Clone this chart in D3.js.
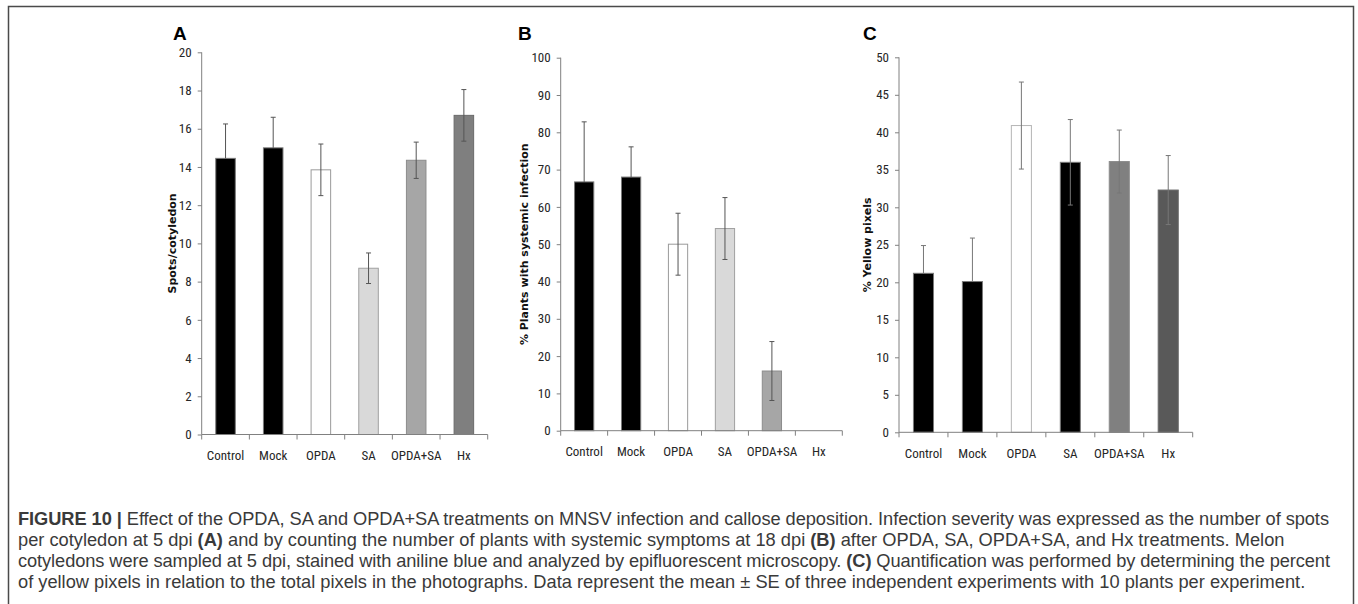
<!DOCTYPE html>
<html>
<head>
<meta charset="utf-8">
<script src="https://cdn.jsdelivr.net/npm/d3@7"></script>
<style>
  html, body { margin: 0; padding: 0; background: #fff; }
  svg { display: block; }
  .tick-label { font-family: "Liberation Sans Narrow", "Roboto Condensed", "Open Sans", sans-serif; font-size: 13px; fill: #262626; }
  .axis-title { font-family: "DejaVu Sans", Verdana, sans-serif; font-weight: bold; font-size: 11px; fill: #111; }
  .panel-letter { font-family: "Liberation Sans", Arial, sans-serif; font-weight: bold; font-size: 19px; fill: #000; }
  .caption { font-family: "Liberation Sans", Arial, sans-serif; fill: #3a3a3a; }
</style>
</head>
<body>
<svg id="fig" width="1358" height="604"></svg>
<script>
// ---------------- data ----------------
const categories = ["Control", "Mock", "OPDA", "SA", "OPDA+SA", "Hx"];

const spotsMean = [14.45, 15.0, 13.85, 8.7, 14.35, 16.7];
const spotsSE   = [1.8, 1.6, 1.35, 0.8, 0.95, 1.35];
const spotsTicks = [0, 2, 4, 6, 8, 10, 12, 14, 16, 18, 20];

const systemicMean = [66.7, 68.0, 50.0, 54.2, 16.0, 0];
const systemicSE   = [16.1, 8.1, 8.3, 8.3, 7.9, 0];
const systemicTicks = [0, 10, 20, 30, 40, 50, 60, 70, 80, 90, 100];

const yellowMean = [21.2, 20.1, 40.9, 36.0, 36.1, 32.3];
const yellowSE   = [3.7, 5.8, 5.8, 5.7, 4.2, 4.6];
const yellowTicks = [0, 5, 10, 15, 20, 25, 30, 35, 40, 45, 50];

const panelLetters = ["A", "B", "C"];
const yTitles = ["Spots/cotyledon", "% Plants with systemic infection", "% Yellow pixels"];

// bar styles
const fillsA = ["#000000", "#000000", "#ffffff", "#d9d9d9", "#a6a6a6", "#7f7f7f"];
const fillsB = ["#000000", "#000000", "#ffffff", "#d9d9d9", "#a6a6a6", "#7f7f7f"];
const fillsC = ["#000000", "#000000", "#ffffff", "#000000", "#808080", "#595959"];
const strokesA = ["#7a7a7a", "#7a7a7a", "#9a9a9a", "#a0a0a0", "#8c8c8c", "#6a6a6a"];
const strokesC = ["#7a7a7a", "#7a7a7a", "#b5b5b5", "#7a7a7a", "#8c8c8c", "#6a6a6a"];
// whether the lower half of the error bar shows through the bar
const lowerShownAB = [false, false, true, true, true, true];
const lowerShownC  = [false, false, true, true, true, true];

const captionLines = [
  [["b", "FIGURE 10 | "], ["n", "Effect of the OPDA, SA and OPDA+SA treatments on MNSV infection and callose deposition. Infection severity was expressed as the number of spots"]],
  [["n", "per cotyledon at 5 dpi "], ["b", "(A)"], ["n", " and by counting the number of plants with systemic symptoms at 18 dpi "], ["b", "(B)"], ["n", " after OPDA, SA, OPDA+SA, and Hx treatments. Melon"]],
  [["n", "cotyledons were sampled at 5 dpi, stained with aniline blue and analyzed by epifluorescent microscopy. "], ["b", "(C)"], ["n", " Quantification was performed by determining the percent"]],
  [["n", "of yellow pixels in relation to the total pixels in the photographs. Data represent the mean \u00b1 SE of three independent experiments with 10 plants per experiment."]]
];

// ---------------- layout ----------------
const svg = d3.select("#fig");

// frame
svg.append("rect")
  .attr("x", 8.5).attr("y", 6.5).attr("width", 1345).attr("height", 610)
  .attr("fill", "none").attr("stroke", "#4a4a4a").attr("stroke-width", 1.5);

const panels = [
  { mean: spotsMean, se: spotsSE, ticks: spotsTicks, max: 20, fills: fillsA, strokes: strokesA, lower: lowerShownAB, err: "#555555",
    x0: 201.7, x1: 487.7, yBottom: 434.5, yTop: 52.3, letterX: 173, titleX: 172 },
  { mean: systemicMean, se: systemicSE, ticks: systemicTicks, max: 100, fills: fillsB, strokes: strokesA, lower: lowerShownAB, err: "#555555",
    x0: 560.7, x1: 842.3, yBottom: 430.7, yTop: 57.7, letterX: 518, titleX: 524 },
  { mean: yellowMean, se: yellowSE, ticks: yellowTicks, max: 50, fills: fillsC, strokes: strokesC, lower: lowerShownC, err: "#777777",
    x0: 899, x1: 1192.7, yBottom: 432.3, yTop: 57.3, letterX: 863, titleX: 867 }
];

panels.forEach((p, pi) => {
  const g = svg.append("g");
  const x = d3.scaleBand().domain(categories).range([p.x0, p.x1]).padding(0);
  const y = d3.scaleLinear().domain([0, p.max]).range([p.yBottom, p.yTop]);
  const bw = x.bandwidth() * 0.41;
  const cx = c => x(c) + x.bandwidth() / 2;

  const data = categories.map((c, i) => ({ c, v: p.mean[i], se: p.se[i], fill: p.fills[i], stroke: p.strokes[i], lower: p.lower[i] }));

  // bars
  g.selectAll("rect.bar").data(data.filter(d => d.v > 0)).join("rect")
    .attr("class", "bar")
    .attr("x", d => cx(d.c) - bw / 2)
    .attr("y", d => y(d.v))
    .attr("width", bw)
    .attr("height", d => y(0) - y(d.v))
    .attr("fill", d => d.fill)
    .attr("stroke", d => d.stroke)
    .attr("stroke-width", 1);

  // error bars
  const eb = g.selectAll("g.err").data(data.filter(d => d.se > 0)).join("g").attr("class", "err")
    .attr("stroke", p.err).attr("stroke-width", 1).attr("fill", "none");
  eb.append("line")
    .attr("x1", d => cx(d.c)).attr("x2", d => cx(d.c))
    .attr("y1", d => y(d.v + d.se)).attr("y2", d => d.lower ? y(d.v - d.se) : y(d.v));
  eb.append("line")
    .attr("x1", d => cx(d.c) - 2.5).attr("x2", d => cx(d.c) + 2.5)
    .attr("y1", d => y(d.v + d.se)).attr("y2", d => y(d.v + d.se));
  eb.filter(d => d.lower).append("line")
    .attr("x1", d => cx(d.c) - 2.5).attr("x2", d => cx(d.c) + 2.5)
    .attr("y1", d => y(d.v - d.se)).attr("y2", d => y(d.v - d.se));

  // y axis
  const yAxis = g.append("g").attr("transform", `translate(${p.x0},0)`)
    .call(d3.axisLeft(y).tickValues(p.ticks).tickSize(4).tickPadding(6).tickFormat(d3.format("d")));
  yAxis.select(".domain").attr("stroke", "#808080").attr("d", `M0,${p.yBottom}V${p.yTop}`);
  yAxis.selectAll(".tick line").attr("stroke", "#808080");
  yAxis.selectAll(".tick text").attr("class", "tick-label").attr("font-family", null).attr("font-size", null);

  // x axis (labels at band centres, ticks at band edges)
  const xAxis = g.append("g").attr("transform", `translate(0,${p.yBottom})`)
    .call(d3.axisBottom(x).tickSize(0).tickPadding(16));
  xAxis.select(".domain").attr("stroke", "#808080").attr("d", `M${p.x0},0H${p.x1}`);
  xAxis.selectAll(".tick text").attr("class", "tick-label").attr("font-family", null).attr("font-size", null);
  const edges = categories.map(c => x(c)).concat([x(categories[categories.length - 1]) + x.bandwidth()]);
  xAxis.selectAll("line.edge").data(edges).join("line").attr("class", "edge")
    .attr("x1", d => d).attr("x2", d => d).attr("y1", 0).attr("y2", 5)
    .attr("stroke", "#808080");

  // y title
  g.append("text").attr("class", "axis-title")
    .attr("transform", `translate(${p.titleX},${(p.yBottom + p.yTop) / 2}) rotate(-90)`)
    .attr("text-anchor", "middle").attr("dominant-baseline", "central")
    .text(yTitles[pi]);

  // panel letter
  g.append("text").attr("class", "panel-letter")
    .attr("x", p.letterX).attr("y", 40).text(panelLetters[pi]);
});

// ---------------- caption ----------------
const capX = 18;
const capBase = [525, 546, 567, 588];
const capFont = 16;
const capG = svg.append("g");
const lines = captionLines.map((segs, li) => {
  const t = capG.append("text").attr("class", "caption")
    .attr("x", capX).attr("y", capBase[li]).attr("font-size", capFont);
  segs.forEach(([w, s]) => {
    t.append("tspan").attr("font-weight", w === "b" ? "bold" : null).text(s);
  });
  return t;
});
// calibrate font size on the last (unjustified) line
const natural = lines[3].node().getComputedTextLength();
const target4 = 1306 - capX;
const scale = target4 / natural;
lines.forEach(t => t.attr("font-size", capFont * scale));
// justify the first and third lines
const justifyTargets = [1329 - capX, null, 1330 - capX, null];
lines.forEach((t, i) => {
  if (justifyTargets[i]) {
    t.attr("textLength", justifyTargets[i]).attr("lengthAdjust", "spacing");
  }
});
</script>
</body>
</html>
